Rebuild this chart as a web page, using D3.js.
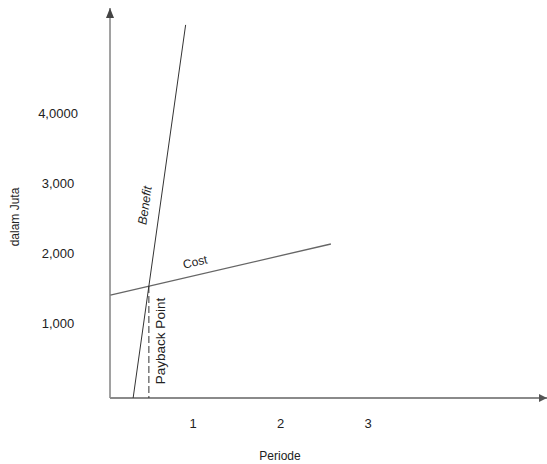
<!DOCTYPE html>
<html>
<head>
<meta charset="utf-8">
<script src="https://cdn.jsdelivr.net/npm/d3@7"></script>
<style>
  body { margin: 0; background: #fff; }
  text { font-family: "Liberation Sans", Arial, sans-serif; fill: #222; }
</style>
</head>
<body>
<svg id="chart"></svg>
<script>
// values (juta rupiah vs periode)
var yTicks = [1000, 2000, 3000, 4000];
var yTickLabels = ["1,000", "2,000", "3,000", "4,0000"];
var xTicks = [1, 2, 3];
var costPeriode = [0.05, 2.57];
var costValue = [1470, 2200];
var benefitPeriode = [0.31, 0.91];
var benefitValue = [0, 5330];
var paybackPeriode = 0.49;
var paybackValue = 1600;

var width = 547, height = 464;

var svg = d3.select("#chart")
    .attr("width", width)
    .attr("height", height);

// scales
var x = d3.scaleLinear().domain([0, 5]).range([106, 543.5]);
var y = d3.scaleLinear().domain([0, 4000]).range([398, 118]);

var axisX = 110, axisY = y(0);

// arrow markers
var defs = svg.append("defs");
defs.append("marker")
    .attr("id", "arrowY")
    .attr("viewBox", "0 0 10 10")
    .attr("refX", 10).attr("refY", 5)
    .attr("markerWidth", 10).attr("markerHeight", 10)
    .attr("markerUnits", "userSpaceOnUse")
    .attr("orient", "auto")
    .append("path")
    .attr("d", "M0,1 L10,5 L0,9 Z")
    .attr("fill", "#444");
defs.append("marker")
    .attr("id", "arrowX")
    .attr("viewBox", "0 0 10 10")
    .attr("refX", 10).attr("refY", 5)
    .attr("markerWidth", 8).attr("markerHeight", 8)
    .attr("markerUnits", "userSpaceOnUse")
    .attr("orient", "auto")
    .append("path")
    .attr("d", "M0,0 L10,5 L0,10 Z")
    .attr("fill", "#555");

// y axis line
svg.append("line")
    .attr("x1", axisX).attr("y1", axisY)
    .attr("x2", axisX).attr("y2", 8)
    .attr("stroke", "#444")
    .attr("stroke-width", 1)
    .attr("marker-end", "url(#arrowY)");

// x axis line
svg.append("line")
    .attr("x1", axisX).attr("y1", axisY)
    .attr("x2", 547).attr("y2", axisY)
    .attr("stroke", "#8a8a8a")
    .attr("stroke-width", 2)
    .attr("marker-end", "url(#arrowX)");

// y tick labels
var yAxis = svg.append("g")
    .attr("transform", "translate(58,-5)")
    .call(d3.axisLeft(y)
        .tickValues(yTicks)
        .tickSize(0)
        .tickPadding(0)
        .tickFormat(function(d, i) { return yTickLabels[i]; }));
yAxis.select(".domain").remove();
yAxis.selectAll("text")
    .attr("text-anchor", "middle")
    .attr("x", 0)
    .style("font-size", "13px")
    .style("font-family", "'Liberation Sans', Arial, sans-serif")
    .attr("fill", "#2b2f2b");

// x tick labels
var xAxis = svg.append("g")
    .attr("transform", "translate(-1," + axisY + ")")
    .call(d3.axisBottom(x)
        .tickValues(xTicks)
        .tickSize(0)
        .tickPadding(21)
        .tickFormat(d3.format("d")));
xAxis.select(".domain").remove();
xAxis.selectAll("text")
    .style("font-size", "13px")
    .style("font-family", "'Liberation Sans', Arial, sans-serif")
    .attr("fill", "#2b2f2b");

// axis titles
svg.append("text")
    .attr("x", 280).attr("y", 460)
    .attr("text-anchor", "middle")
    .style("font-size", "12px")
    .text("Periode");

svg.append("text")
    .attr("transform", "translate(19,217) rotate(-90)")
    .attr("text-anchor", "middle")
    .style("font-size", "12px")
    .text("dalam Juta");

var line = d3.line()
    .x(function(d) { return x(d[0]); })
    .y(function(d) { return y(d[1]); });

// cost line
svg.append("path")
    .datum(d3.zip(costPeriode, costValue))
    .attr("d", line)
    .attr("fill", "none")
    .attr("stroke", "#666")
    .attr("stroke-width", 1.3);

// benefit line
svg.append("path")
    .datum(d3.zip(benefitPeriode, benefitValue))
    .attr("d", line)
    .attr("fill", "none")
    .attr("stroke", "#333")
    .attr("stroke-width", 1);

// payback dashed line
svg.append("line")
    .attr("x1", x(paybackPeriode)).attr("y1", y(paybackValue))
    .attr("x2", x(paybackPeriode)).attr("y2", axisY)
    .attr("stroke", "#333")
    .attr("stroke-width", 1)
    .attr("stroke-dasharray", "7,3");

// line labels
var costAngle = Math.atan2(y(costValue[1]) - y(costValue[0]), x(costPeriode[1]) - x(costPeriode[0])) * 180 / Math.PI;
svg.append("text")
    .attr("transform", "translate(196,266) rotate(" + costAngle + ")")
    .attr("text-anchor", "middle")
    .style("font-size", "12px")
    .text("Cost");

var benefitAngle = Math.atan2(y(benefitValue[1]) - y(benefitValue[0]), x(benefitPeriode[1]) - x(benefitPeriode[0])) * 180 / Math.PI;
svg.append("text")
    .attr("transform", "translate(149,206) rotate(" + benefitAngle + ")")
    .attr("text-anchor", "middle")
    .style("font-size", "12.5px")
    .style("font-style", "italic")
    .text("Benefit");

svg.append("text")
    .attr("transform", "translate(165,341) rotate(-90)")
    .attr("text-anchor", "middle")
    .style("font-size", "13.5px")
    .text("Payback Point");
</script>
</body>
</html>
